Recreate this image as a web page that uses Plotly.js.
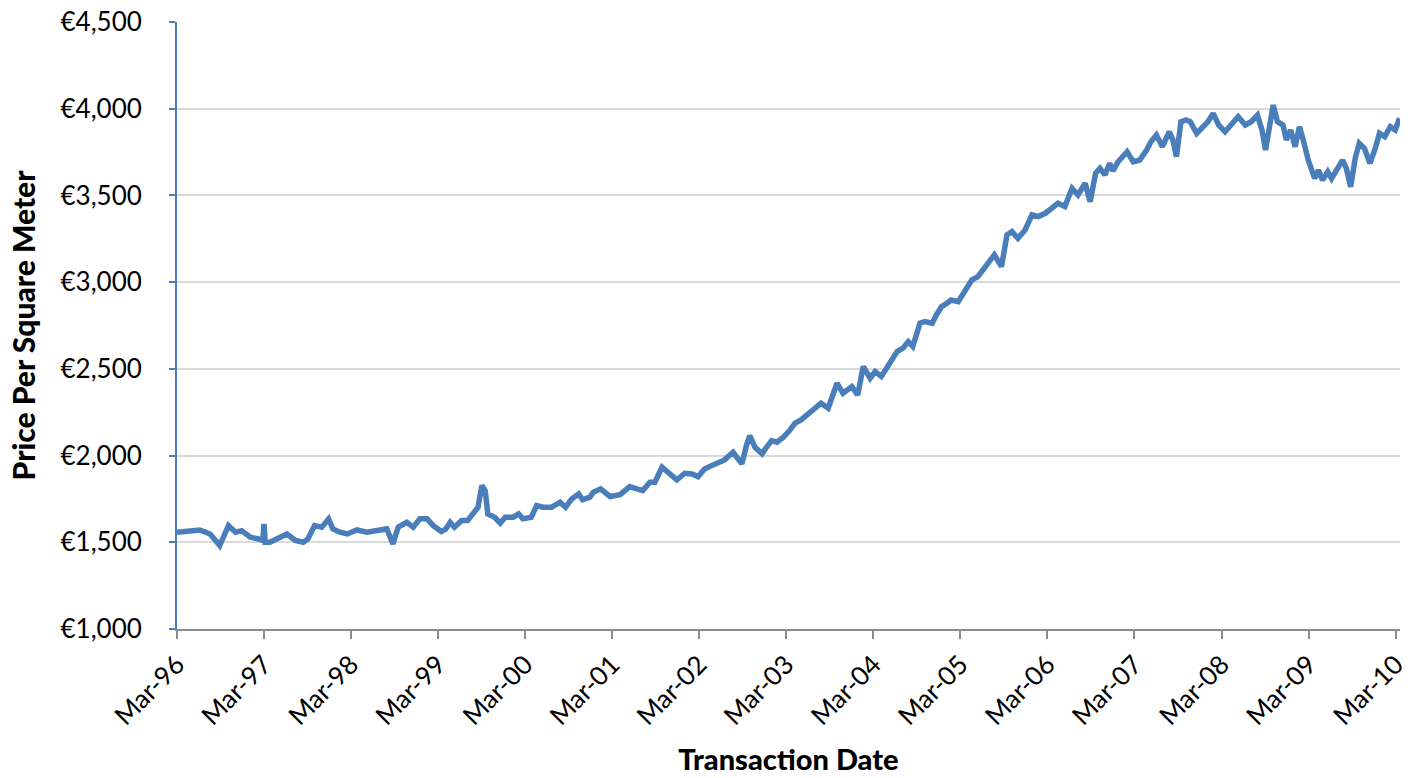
<!DOCTYPE html>
<html>
<head>
<meta charset="utf-8">
<script src="https://cdn.plot.ly/plotly-3.0.1.min.js"></script>
<style>html,body{margin:0;padding:0;background:#fff;}#chart{width:1414px;height:778px;}</style>
</head>
<body>
<div id="chart"></div>
<script>
const dates = [
"1996-03-01","1996-04-25","1996-06-04","1996-07-18","1996-08-27","1996-10-03","1996-11-02","1996-11-27","1997-01-03","1997-02-06",
"1997-02-24","1997-03-01","1997-03-06","1997-03-26","1997-04-25","1997-06-05","1997-07-11","1997-08-13","1997-09-01","1997-09-29",
"1997-10-29","1997-11-27","1997-12-15","1998-01-14","1998-02-13","1998-03-26","1998-05-06","1998-06-19","1998-07-29","1998-08-24",
"1998-09-15","1998-10-21","1998-11-17","1998-12-15","1999-01-14","1999-02-09","1999-03-15","1999-04-03","1999-04-21","1999-05-09",
"1999-06-08","1999-07-03","1999-08-02","1999-08-16","1999-09-01","1999-09-15","1999-09-26","1999-10-25","1999-11-17","1999-12-08",
"2000-01-11","2000-02-02","2000-02-20","2000-03-26","2000-04-18","2000-05-13","2000-06-19","2000-07-25","2000-08-17","2000-09-12",
"2000-10-11","2000-10-28","2000-11-27","2000-12-12","2001-01-11","2001-02-20","2001-04-03","2001-05-13","2001-06-12","2001-07-07",
"2001-08-06","2001-08-27","2001-09-26","2001-10-21","2001-11-27","2001-12-30","2002-01-29","2002-02-24","2002-03-23","2002-04-21",
"2002-05-17","2002-06-15","2002-07-21","2002-08-27","2002-09-15","2002-09-29","2002-10-21","2002-11-20","2002-12-08","2002-12-30",
"2003-01-21","2003-02-17","2003-03-15","2003-04-07","2003-05-02","2003-06-15","2003-07-25","2003-08-24","2003-09-30","2003-10-25",
"2003-12-01","2003-12-26","2004-01-18","2004-02-16","2004-03-08","2004-04-03","2004-05-09","2004-06-08","2004-07-03","2004-07-25",
"2004-08-13","2004-09-12","2004-10-03","2004-11-02","2004-11-20","2004-12-12","2005-01-03","2005-01-21","2005-02-20","2005-03-12",
"2005-04-18","2005-05-13","2005-06-12","2005-07-21","2005-08-20","2005-09-12","2005-10-03","2005-10-28","2005-11-27","2005-12-26",
"2006-01-21","2006-02-20","2006-03-19","2006-04-14","2006-05-13","2006-06-12","2006-07-07","2006-08-06","2006-08-27","2006-09-19",
"2006-10-07","2006-10-28","2006-11-17","2006-12-01","2006-12-22","2007-01-29","2007-02-24","2007-03-23","2007-04-21","2007-05-09",
"2007-06-01","2007-06-26","2007-07-25","2007-08-09","2007-08-24","2007-09-12","2007-10-03","2007-10-21","2007-11-17","2007-12-15",
"2008-01-03","2008-01-25","2008-02-17","2008-03-15","2008-04-11","2008-05-09","2008-06-08","2008-07-03","2008-07-29","2008-08-17",
"2008-09-01","2008-09-12","2008-10-03","2008-10-21","2008-11-13","2008-11-27","2008-12-15","2009-01-03","2009-01-21","2009-02-06",
"2009-02-27","2009-03-26","2009-04-11","2009-04-28","2009-05-20","2009-06-05","2009-06-29","2009-07-21","2009-08-06","2009-08-24",
"2009-09-12","2009-09-29","2009-10-21","2009-11-13","2009-12-05","2009-12-23","2010-01-14","2010-02-06","2010-02-27","2010-03-17"
];
const prices = [
1558,1567,1571,1548,1481,1596,1558,1567,1529,1519,
1510,1606,1500,1500,1519,1548,1510,1500,1519,1596,
1587,1635,1577,1558,1548,1571,1558,1571,1577,1491,
1587,1615,1587,1635,1635,1596,1562,1577,1615,1587,
1625,1625,1683,1702,1827,1798,1664,1644,1610,1644,
1644,1664,1635,1644,1712,1702,1702,1731,1702,1750,
1779,1745,1760,1789,1808,1764,1775,1821,1808,1798,
1846,1846,1933,1904,1860,1898,1894,1879,1923,1942,
1956,1975,2019,1952,2058,2115,2048,2010,2048,2086,
2077,2106,2144,2187,2206,2254,2302,2273,2417,2360,
2398,2350,2513,2446,2484,2456,2542,2600,2619,2657,
2629,2763,2773,2763,2811,2859,2878,2897,2888,2936,
3013,3032,3089,3157,3090,3272,3291,3253,3301,3388,
3378,3397,3426,3455,3436,3541,3503,3570,3464,3628,
3656,3618,3685,3641,3694,3752,3694,3704,3762,3810,
3848,3781,3867,3820,3723,3925,3935,3925,3858,3896,
3925,3973,3906,3867,3915,3954,3906,3925,3963,3877,
3762,3848,4021,3925,3906,3820,3877,3781,3896,3820,
3704,3598,3646,3588,3637,3598,3646,3704,3656,3550,
3714,3801,3771,3685,3771,3858,3839,3896,3877,3945
];
const tickDates = ["1996-03-01","1997-03-01","1998-03-01","1999-03-01","2000-03-01","2001-03-01","2002-03-01","2003-03-01","2004-03-01","2005-03-01","2006-03-01","2007-03-01","2008-03-01","2009-03-01","2010-03-01"];
const tickLabels = ["Mar-96","Mar-97","Mar-98","Mar-99","Mar-00","Mar-01","Mar-02","Mar-03","Mar-04","Mar-05","Mar-06","Mar-07","Mar-08","Mar-09","Mar-10"];
const yTicks = [1000,1500,2000,2500,3000,3500,4000,4500];
const yLabels = ["€1,000","€1,500","€2,000","€2,500","€3,000","€3,500","€4,000","€4,500"];

const FONT = "Lato, 'Noto Sans', sans-serif";
Plotly.newPlot('chart', [{
  x: dates, y: prices, type: 'scatter', mode: 'lines',
  line: {color: '#4a7ebb', width: 5.5}, hoverinfo: 'x+y'
}], {
  width: 1414, height: 778,
  margin: {l: 177, r: 14, t: 22, b: 149},
  paper_bgcolor: '#fff', plot_bgcolor: '#fff',
  showlegend: false,
  font: {family: FONT, color: '#000', size: 26},
  xaxis: {
    type: 'date', range: ['1996-03-01', '2010-03-19'],
    tickmode: 'array', tickvals: tickDates, ticktext: tickLabels,
    tickangle: -45, tickfont: {size: 26, family: FONT},
    showgrid: false, zeroline: false,
    showline: true, linecolor: '#8c8c8c', linewidth: 2,
    ticks: 'outside', ticklen: 8, tickwidth: 2, tickcolor: '#8c8c8c',
    title: {text: 'Transaction Date', font: {size: 29, family: FONT, weight: 900}, standoff: 20}
  },
  yaxis: {
    range: [1000, 4500], tickmode: 'array', tickvals: yTicks, ticktext: yLabels,
    tickfont: {size: 26, family: FONT},
    showgrid: true, gridcolor: '#d9d9d9', gridwidth: 2, zeroline: false,
    showline: true, linecolor: '#4a7ebb', linewidth: 2,
    ticks: 'outside', ticklen: 6, tickwidth: 2, tickcolor: '#4a7ebb',
    ticklabelstandoff: 22,
    title: {text: 'Price Per Square Meter', font: {size: 30, family: FONT, weight: 900}, standoff: 16}
  }
}, {displayModeBar: false, staticPlot: true});
</script>
</body>
</html>
